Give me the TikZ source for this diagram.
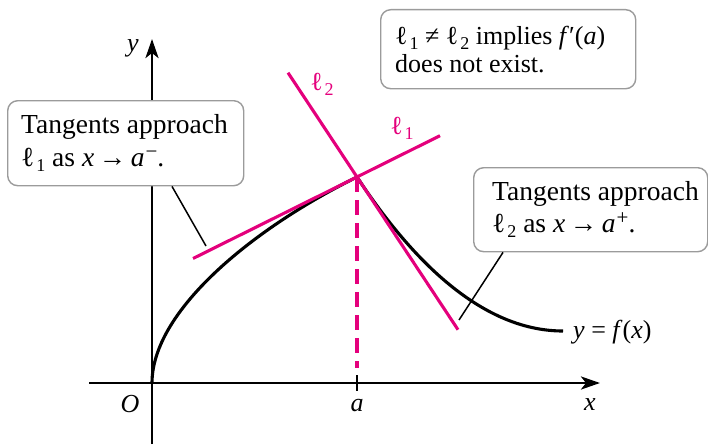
\documentclass[tikz,border=0pt]{standalone}
\usepackage{fontspec}
\setmainfont{Liberation Serif}
\newfontfamily\serifrm{Liberation Serif}
\usetikzlibrary{arrows.meta}
\definecolor{mag}{RGB}{228,0,124}
\definecolor{boxgray}{RGB}{155,155,155}
\newcommand{\Lsub}[1]{ℓ\kern2pt\raisebox{-5pt}{\fontsize{18}{18}\selectfont #1}}
\newcommand{\Sup}[1]{\kern1pt\raisebox{8pt}{\fontsize{21}{21}\selectfont #1}}
\begin{document}
\begin{tikzpicture}[x=1pt,y=-1pt,
  axis/.style={line width=2.9pt,-{Stealth[length=19pt,width=13pt,inset=5pt]}},
  curve/.style={line width=3.1pt},
  tline/.style={mag,line width=3.1pt},
  dline/.style={mag,line width=3.1pt,dash pattern=on 15pt off 8pt},
  leader/.style={line width=1.5pt},
  callbox/.style={draw=boxgray,line width=1.4pt,rounded corners=10pt,fill=white,inner sep=0pt},
  txt/.style={font=\serifrm\fontsize{27.5}{32.5}\selectfont,align=left,inner sep=0pt},
  ttxt/.style={font=\serifrm\fontsize{26}{28}\selectfont,align=left,inner sep=0pt},
  lab/.style={font=\serifrm\fontsize{26}{30}\selectfont\itshape,inner sep=0pt},
  mlab/.style={font=\serifrm\fontsize{26}{30}\selectfont,text=mag,inner sep=0pt}]
\useasboundingbox (0,0) rectangle (708,444);
% coordinates
\coordinate (O) at (152,383);
\coordinate (P) at (357,177);
\coordinate (E) at (563,331);
\coordinate (xl) at (89,383);
\coordinate (xr) at (600,383);
\coordinate (yb) at (152,444);
\coordinate (yt) at (152,39);
\coordinate (tickT) at (357,375);
\coordinate (tickB) at (357,391);
\coordinate (dashB) at (357,368);
\coordinate (l1a) at (193,258.5);
\coordinate (l1b) at (440,135.7);
\coordinate (l2a) at (288,72.7);
\coordinate (l2b) at (458,329.7);
% axes
\draw[axis] (xl) -- (xr);
\draw[axis] (yb) -- (yt);
\draw[line width=2.9pt] (tickT) -- (tickB);
\node[lab] (xlab) at (590,405) {x};
\node[lab] (ylab) at (133,48) {y};
\node[lab] (olab) at (130,404) {O};
\node[lab] (alab) at (357,406) {a};
% curve
\draw[curve] (O) .. controls (152,312) and (250,230) .. (P)
  .. controls (407,253) and (478,331) .. (E);
\node[lab,font=\serifrm\fontsize{26}{30}\selectfont,anchor=base west] (flab) at (573,338) {\textit{y} = \textit{f\/}(\textit{x})};
% tangents
\draw[dline] (P) -- (dashB);
\draw[tline] (l1a) -- (l1b);
\draw[tline] (l2a) -- (l2b);
\node[mlab] (l1lab) at (402,128) {\Lsub{1}};
\node[mlab] (l2lab) at (322,84) {\Lsub{2}};
% callouts
\node[callbox,minimum width=236pt,minimum height=85pt,anchor=north west] (lbox) at (7,100) {};
\node[txt,anchor=west] (ltext) at ([xshift=14pt]lbox.west) {Tangents approach\\\Lsub{1} as \textit{x}\,→\,\textit{a}\Sup{−}.};
\node[callbox,minimum width=234pt,minimum height=84pt,anchor=north west] (rbox) at (473,167) {};
\node[txt,anchor=west] (rtext) at ([xshift=19pt]rbox.west) {Tangents approach\\\Lsub{2} as \textit{x}\,→\,\textit{a}\Sup{+}.};
\node[callbox,minimum width=255pt,minimum height=79pt,anchor=north west] (tbox) at (380,9) {};
\node[ttxt,anchor=west] (ttext) at ([xshift=15pt]tbox.west) {\Lsub{1} ≠ \Lsub{2} implies \textit{f}′(\textit{a})\\does not exist.};
% leaders
\coordinate (lA) at (206,246);
\coordinate (rA) at (459,320);
\draw[leader] (lbox.south -| 172,0) -- (lA);
\draw[leader] (rbox.south -| 503,0) -- (rA);
\end{tikzpicture}
\end{document}
